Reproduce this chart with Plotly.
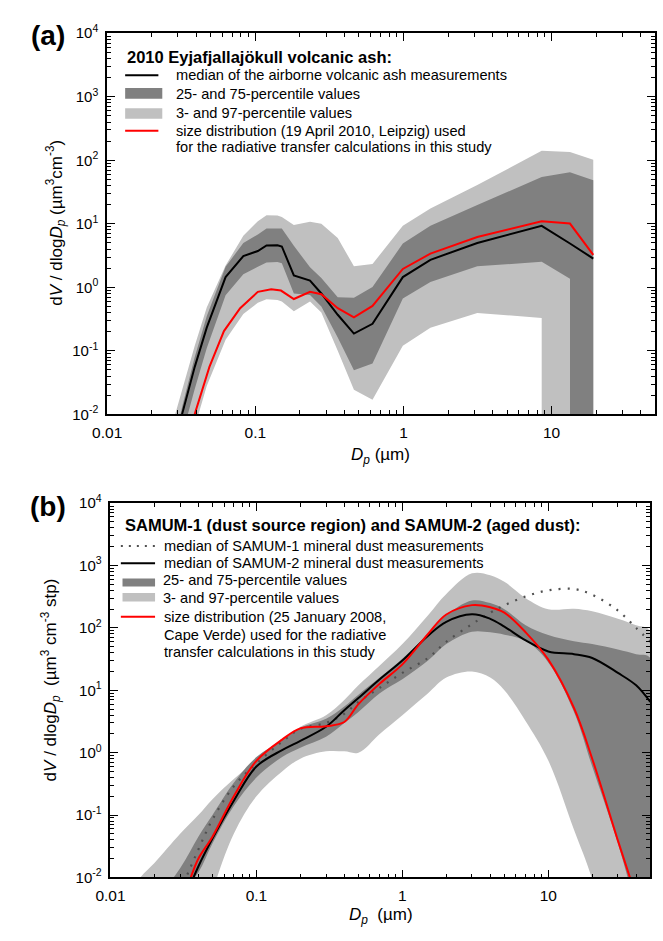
import numpy as np
import plotly.graph_objects as go

FONT = "Liberation Sans, Arial, sans-serif"
W, H = 663, 941
FLOOR = 1e-4  # zero-valued percentiles are drawn at the floor, below the axis

DARK = "#808080"
LIGHT = "#c0c0c0"

# ---------------- (a) 2010 Eyjafjallajökull volcanic ash ----------------
ash_dp = [0.028, 0.032, 0.039, 0.047, 0.063, 0.083, 0.104, 0.119, 0.141, 0.151,
          0.182, 0.234, 0.279, 0.36, 0.463, 0.618, 0.99, 1.52, 3.15, 8.57, 13.3, 19.1]
ash_median = [0.004, 0.01, 0.056, 0.232, 1.45, 3.1, 3.73, 4.57, 4.6, 4.4,
              1.54, 1.28, 0.80, 0.37, 0.187, 0.267, 1.45, 2.71, 5.0, 9.3, 4.9, 2.84]
ash_p97 = [0.008, 0.024, 0.12, 0.48, 2.2, 6.5, 11.0, 13.7, 13.5, 12.8,
           9.6, 10.8, 10.0, 6.0, 2.14, 2.33, 9.3, 17.4, 40.8, 141, 135, 102]
ash_p75 = [0.003, 0.013, 0.08, 0.35, 2.1, 5.0, 6.8, 8.4, 8.4, 8.4,
           4.5, 2.07, 1.4, 0.7, 0.687, 1.01, 4.9, 9.3, 19.7, 54.8, 64.6, 48.6]
ash_p25_dp = ash_dp[:-1] + [13.3, 19.1]
ash_p25 = [0.0005, 0.0046, 0.025, 0.11, 0.75, 1.6, 2.1, 2.47, 2.5, 2.4,
           0.8, 0.755, 0.5, 0.162, 0.0496, 0.063, 0.67, 1.21, 2.14, 2.52, 1.36, 0, 0]
ash_p3_dp = ash_dp[:-2] + [8.57, 13.3, 19.1]
ash_p3 = [0.0001, 0.0013, 0.006, 0.028, 0.15, 0.38, 0.57, 0.65, 0.63, 0.6,
          0.42, 0.6, 0.4, 0.1, 0.0244, 0.017, 0.12, 0.232, 0.394, 0.33, 0, 0, 0]
ash_used_dp = [0.035, 0.039, 0.049, 0.0614, 0.079, 0.104, 0.128, 0.149, 0.182, 0.234,
               0.279, 0.36, 0.463, 0.618, 0.99, 1.52, 3.15, 8.57, 13.3, 19.1]
ash_used = [0.0045, 0.01, 0.056, 0.205, 0.47, 0.85, 0.935, 0.89, 0.655, 0.85,
            0.78, 0.47, 0.337, 0.51, 1.95, 3.39, 6.2, 10.96, 10.1, 3.24]

# ---------------- (b) SAMUM-1 / SAMUM-2 mineral dust ----------------
dust_dp = [0.012, 0.016, 0.02, 0.03, 0.04, 0.05, 0.07, 0.1, 0.15, 0.2, 0.3, 0.4, 0.5,
           0.7, 1, 1.5, 2, 3, 4, 5, 7, 10, 15, 20, 30, 40, 50]
dust_p97 = [0.004, 0.01, 0.017, 0.05, 0.1, 0.18, 0.38, 0.75, 1.5, 2.6, 4.0, 7.0, 12,
            25, 55, 160, 350, 750, 700, 550, 300, 200, 203, 185, 140, 110, 88]
dust_p75 = [0.001, 0.002, 0.004, 0.014, 0.045, 0.1, 0.33, 0.85, 1.6, 2.5, 3.5, 5.5, 8.5,
            16, 32, 80, 160, 275, 250, 200, 110, 77, 61, 55, 45, 38, 33]
dust_p25 = [0.00005, 0.0001, 0.0003, 0.005, 0.012, 0.035, 0.14, 0.4, 0.85, 1.2, 1.8, 3.0, 4.5,
            9, 15, 30, 55, 87, 85, 78, 62, 28, 4.5, 0.6, 0.035, 0.003, 0.0003]
dust_p3 = [0.00001, 0.00003, 0.0001, 0.0003, 0.001, 0.006, 0.05, 0.2, 0.5, 0.8, 1.05, 1.05, 1.0,
           2.0, 4.0, 9.0, 16, 20, 16, 10, 3.2, 0.75, 0.058, 0.0093, 0.0002, 0.00001, 0.000001]

line_dp = [0.03, 0.04, 0.05, 0.07, 0.1, 0.15, 0.2, 0.3, 0.4, 0.5, 0.7, 1, 1.5, 2, 3,
           4, 5, 7, 10, 15, 20, 30, 40, 50]
samum1_median = [0.006, 0.028, 0.085, 0.29, 0.67, 1.5, 2.4, 3.0, 4.2, 6.5, 11, 19, 33, 60, 115,
                 175, 230, 320, 400, 420, 340, 190, 100, 60]
samum2_median = [0.003, 0.015, 0.042, 0.17, 0.6, 1.1, 1.55, 2.6, 4.8, 7.5, 15, 30, 75, 125, 165,
                 140, 105, 63, 42, 38, 33, 19, 12, 6.5]
used_dp = [0.03, 0.0355, 0.04, 0.05, 0.07, 0.1, 0.15, 0.2, 0.3, 0.4, 0.5, 0.7, 1, 1.5, 2, 3,
           4, 5, 7, 10, 15, 20, 30, 36, 40]
dust_used = [0.003, 0.01, 0.02, 0.045, 0.2, 0.74, 1.62, 2.45, 2.65, 3.1, 6.0, 12.8, 26, 80, 164, 232,
             215, 176, 85, 31, 5.2, 0.8, 0.039, 0.0105, 0.005]

# axis geometry in pixels: (left, right, top, bottom)
BOX_A = (94.3, 655.0, 22.7, 411.7)
BOX_B = (97.7, 650.0, 502.3, 884.3)


def paper_x(px):
    return px / W


def paper_y(py):
    return 1 - py / H


def band(dp_up, up, dp_lo, lo, color, xa, ya, shape):
    lo_f = [v if v > 0 else FLOOR for v in lo]
    return go.Scatter(x=list(dp_up) + list(dp_lo)[::-1], y=list(up) + lo_f[::-1],
                      fill="toself", fillcolor=color, mode="lines",
                      line=dict(width=0, color=color, shape=shape),
                      hoverinfo="skip", showlegend=False, xaxis=xa, yaxis=ya)


fig = go.Figure()

# (a) bands and lines, piecewise linear
fig.add_trace(band(ash_dp, ash_p97, ash_p3_dp, ash_p3, LIGHT, "x", "y", "linear"))
fig.add_trace(band(ash_dp, ash_p75, ash_p25_dp, ash_p25, DARK, "x", "y", "linear"))
fig.add_trace(go.Scatter(x=ash_dp, y=ash_median, mode="lines", line=dict(color="black", width=2),
                         showlegend=False, xaxis="x", yaxis="y"))
fig.add_trace(go.Scatter(x=ash_used_dp, y=ash_used, mode="lines", line=dict(color="#ff0000", width=2),
                         showlegend=False, xaxis="x", yaxis="y"))

# (b) bands and lines, smooth
fig.add_trace(band(dust_dp, dust_p97, dust_dp, dust_p3, LIGHT, "x2", "y2", "spline"))
fig.add_trace(band(dust_dp, dust_p75, dust_dp, dust_p25, DARK, "x2", "y2", "spline"))
fig.add_trace(go.Scatter(x=line_dp, y=samum1_median, mode="lines",
                         line=dict(color="#505050", width=2.2, dash="2px,7px", shape="spline"),
                         showlegend=False, xaxis="x2", yaxis="y2"))
fig.add_trace(go.Scatter(x=line_dp, y=samum2_median, mode="lines",
                         line=dict(color="black", width=2, shape="spline"),
                         showlegend=False, xaxis="x2", yaxis="y2"))
fig.add_trace(go.Scatter(x=used_dp, y=dust_used, mode="lines",
                         line=dict(color="#ff0000", width=2, shape="spline"),
                         showlegend=False, xaxis="x2", yaxis="y2"))

x_minor = [m * 10.0 ** e for e in range(-2, 2) for m in range(2, 10) if m * 10.0 ** e < 50]
y_minor = [m * 10.0 ** e for e in range(-2, 4) for m in range(2, 10)]
y_ticks = [10.0 ** e for e in range(-2, 5)]
y_text = ["10<sup>%d</sup>" % e for e in range(-2, 5)]


def x_axis(box, anchor):
    l, r, t, b = box
    return dict(type="log", range=[-2, np.log10(50)], autorange=False,
                domain=[paper_x(l), paper_x(r)],
                anchor=anchor, showline=True, linecolor="black", linewidth=1.8, mirror="allticks",
                ticks="inside", ticklen=8, tickwidth=1.4, tickcolor="black",
                tickmode="array", tickvals=[0.01, 0.1, 1, 10], ticktext=["0.01", "0.1", "1", "10"],
                tickfont=dict(family=FONT, size=15.5, color="black"), ticklabelstandoff=3,
                showgrid=False, zeroline=False,
                minor=dict(tickmode="array", tickvals=x_minor, ticks="inside", ticklen=4,
                           tickwidth=1.2, tickcolor="black", showgrid=False))


def y_axis(box, anchor):
    l, r, t, b = box
    return dict(type="log", range=[-2, 4], autorange=False,
                domain=[paper_y(b), paper_y(t)],
                anchor=anchor, showline=True, linecolor="black", linewidth=1.8, mirror="allticks",
                ticks="inside", ticklen=8, tickwidth=1.4, tickcolor="black",
                tickmode="array", tickvals=y_ticks, ticktext=y_text,
                tickfont=dict(family=FONT, size=15, color="black"), ticklabelstandoff=4,
                showgrid=False, zeroline=False,
                minor=dict(tickmode="array", tickvals=y_minor, ticks="inside", ticklen=4,
                           tickwidth=1.2, tickcolor="black", showgrid=False))


annotations = []
shapes = []


def text(px, py, s, size=14.6, bold=False, xanchor="left", angle=0):
    annotations.append(dict(xref="paper", yref="paper", x=paper_x(px), y=paper_y(py),
                            text="<b>%s</b>" % s if bold else s, showarrow=False,
                            xanchor=xanchor, yanchor="middle", textangle=angle,
                            font=dict(family=FONT, size=size, color="black")))


def leg_line(x0, x1, py, color, dash="solid", width=2):
    shapes.append(dict(type="line", xref="paper", yref="paper", x0=paper_x(x0), x1=paper_x(x1),
                       y0=paper_y(py), y1=paper_y(py), line=dict(color=color, width=width, dash=dash)))


def leg_rect(x0, x1, y0, y1, color):
    shapes.append(dict(type="rect", xref="paper", yref="paper", x0=paper_x(x0), x1=paper_x(x1),
                       y0=paper_y(y1), y1=paper_y(y0), fillcolor=color, line=dict(width=0)))


# panel labels
text(34, 25, "(a)", size=28, bold=True, xanchor="center")
text(34, 506, "(b)", size=28, bold=True, xanchor="center")

# axis titles
ytitle_a = "d<i>V</i> / dlog<i>D</i><sub><i>p</i></sub> (µm<sup>3</sup>cm<sup>-3</sup>)"
ytitle_b = "d<i>V</i> / dlog<i>D</i><sub><i>p</i></sub>  (µm<sup>3</sup> cm<sup>-3</sup> stp)"
text(42, 216, ytitle_a, size=17, xanchor="center", angle=-90)
text(36, 683, ytitle_b, size=17, xanchor="center", angle=-90)
text(374, 454, "<i>D</i><sub><i>p</i></sub> (µm)", size=17, xanchor="center")
text(374, 924, "<i>D</i><sub><i>p</i></sub>  (µm)", size=17, xanchor="center")

# legend (a)
text(113, 46.7, "2010 Eyjafjallajökull volcanic ash:", size=16.5, bold=True)
leg_line(112.7, 146.7, 65.7, "black")
text(162.5, 65.7, "median of the airborne volcanic ash measurements")
leg_rect(112.7, 150.7, 78.5, 89.5, DARK)
text(162.5, 84.3, "25- and 75-percentile values")
leg_rect(112.7, 150.7, 99.3, 110.0, LIGHT)
text(162.5, 104.3, "3- and 97-percentile values")
leg_line(112.7, 146.7, 122.3, "#ff0000")
text(162.5, 122.3, "size distribution (19 April 2010, Leipzig) used")
text(162.5, 139.3, "for the radiative transfer calculations in this study")

# legend (b)
text(110, 525, "SAMUM-1 (dust source region) and SAMUM-2 (aged dust):", size=16.5, bold=True)
leg_line(108.3, 143.3, 546, "#505050", dash="2px,6px")
text(150, 546, "median of SAMUM-1 mineral dust measurements")
leg_line(108.3, 143.3, 563.7, "black")
text(150, 563.7, "median of SAMUM-2 mineral dust measurements")
leg_rect(110, 143.3, 579.3, 587.3, DARK)
text(149, 581, "25- and 75-percentile values")
leg_rect(110, 143.3, 594, 602.7, LIGHT)
text(149, 599, "3- and 97-percentile values")
leg_line(108.3, 143.3, 618.3, "#ff0000")
text(150, 618.3, "size distribution (25 January 2008,")
text(150, 636.7, "Cape Verde) used for the radiative")
text(150, 654.3, "transfer calculations in this study")

fig.update_layout(
    width=W, height=H, autosize=False,
    margin=dict(l=0, r=0, t=0, b=0),
    paper_bgcolor="white", plot_bgcolor="white",
    xaxis=x_axis(BOX_A, "y"), yaxis=y_axis(BOX_A, "x"),
    xaxis2=x_axis(BOX_B, "y2"), yaxis2=y_axis(BOX_B, "x2"),
    annotations=annotations, shapes=shapes,
    font=dict(family=FONT, color="black"),
    showlegend=False,
)

fig.write_html("out.html")
